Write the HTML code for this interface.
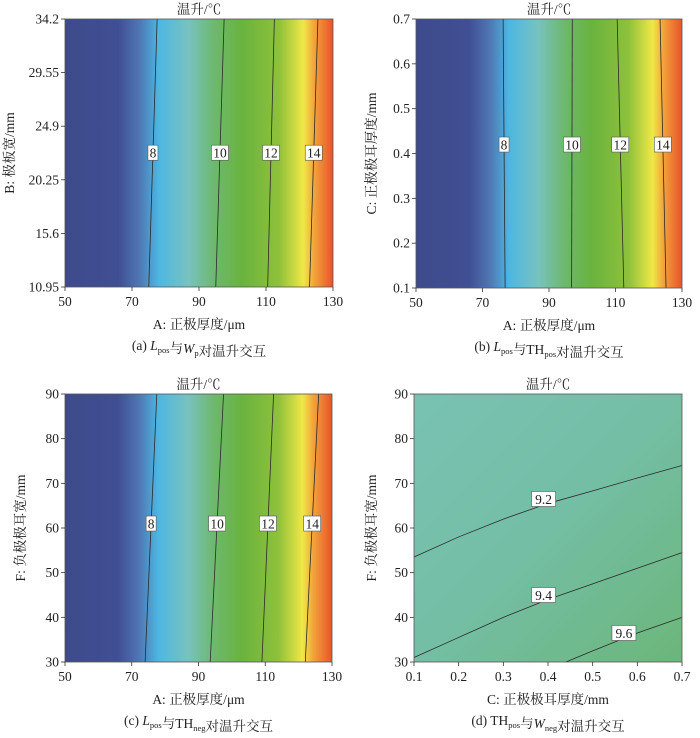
<!DOCTYPE html>
<html><head><meta charset="utf-8"><style>
html,body{margin:0;padding:0;background:#fff;}
svg text{font-family:"Liberation Serif","Noto Serif CJK SC",serif;fill:#222;}
</style></head><body>
<svg id="c" width="700" height="733" viewBox="0 0 700 733" xmlns="http://www.w3.org/2000/svg">
<defs>
<linearGradient id="heat" x1="0" x2="1" y1="0" y2="0">
<stop offset="0" stop-color="#3e4a8b"/><stop offset="0.2" stop-color="#404f93"/>
<stop offset="0.28" stop-color="#4f78b4"/><stop offset="0.35" stop-color="#4db7e2"/>
<stop offset="0.46" stop-color="#78c2c0"/><stop offset="0.56" stop-color="#6db86c"/>
<stop offset="0.66" stop-color="#69b33f"/><stop offset="0.8" stop-color="#8fc13b"/>
<stop offset="0.89" stop-color="#f0e847"/><stop offset="0.93" stop-color="#f2a33a"/>
<stop offset="1" stop-color="#e8532a"/></linearGradient>
<linearGradient id="dgrad" x1="0" y1="0" x2="1" y2="1">
<stop offset="0" stop-color="#79c2b3"/><stop offset="0.5" stop-color="#74bea5"/><stop offset="1" stop-color="#6cb67a"/></linearGradient>
</defs>
</svg>
<script>
// Panel a
const aXTicks=[50,70,90,110,130];
const aYTicks=[10.95,15.6,20.25,24.9,29.55,34.2];
const aLevels=[8,10,12,14];
const aBottomX=[75,95,110.5,123];
const aTopX=[77.5,97.5,112.5,125.5];
const aLabelY=22.6;
// Panel b
const bXTicks=[50,70,90,110,130];
const bYTicks=[0.1,0.2,0.3,0.4,0.5,0.6,0.7];
const bLevels=[8,10,12,14];
const bBottomX=[76.8,96.8,112.5,125.2];
const bTopX=[76.2,97,110.5,123.4];
const bLabelY=0.42;
// Panel c
const cXTicks=[50,70,90,110,130];
const cYTicks=[30,40,50,60,70,80,90];
const cLevels=[8,10,12,14];
const cBottomX=[74,93.5,109,122];
const cTopX=[77.5,97.5,112.5,126];
const cLabelY=61;
// Panel d
const dXTicks=[0.1,0.2,0.3,0.4,0.5,0.6,0.7];
const dYTicks=[30,40,50,60,70,80,90];
const dLevels=[9.2,9.4,9.6];
const dCurveX=[[0.1,0.2,0.3,0.4,0.5,0.6,0.7],[0.1,0.2,0.3,0.4,0.5,0.6,0.7],[0.44,0.5,0.6,0.7]];
const dCurveY=[[53.5,58,62,65.5,68.3,71.2,74],[31,35.5,40,44,47.5,51,54.5],[30,32.5,36.5,40]];
const dLabelX=[0.39,0.39,0.57];
const dLabelY=[66.5,45,36.5];

const NS="http://www.w3.org/2000/svg";
const svg=document.getElementById('c');
const FS=13.5;
function el(t,a,p){const e=document.createElementNS(NS,t);for(const k in a)e.setAttribute(k,a[k]);(p||svg).appendChild(e);return e;}
function txt(s,a,p){const e=el('text',a,p);e.textContent=s;return e;}

function panel(cfg){
  const g=el('g',{});
  
  
  const {x0,x1,y0,y1,xmin,xmax,ymin,ymax}=cfg;
  const sx=v=>x0+(v-xmin)/(xmax-xmin)*(x1-x0);
  const sy=v=>y1-(v-ymin)/(ymax-ymin)*(y1-y0);
  const bg=el('rect',{x:x0,y:y0,width:x1-x0,height:y1-y0,fill:cfg.fill},g);
  
  
  cfg.lines.forEach((ln,i)=>{
    const p=el('polyline',{points:ln.xs.map((x,j)=>sx(x)+','+sy(ln.ys[j])).join(' '),fill:'none',stroke:'#2a2a2a','stroke-width':0.8},g);
    
    
    const lx=sx(ln.lx),ly=sy(ln.ly);
    const s=String(ln.level);const w=s.length*7+3;
    const r=el('rect',{x:lx-w/2,y:ly-7.5,width:w,height:15,fill:'#fff',stroke:'#555','stroke-width':0.6},g);
    
    
    const t=txt(s,{x:lx,y:ly+5,'text-anchor':'middle','font-size':FS},g);
    
    
  });
  const fr=el('rect',{x:x0,y:y0,width:x1-x0,height:y1-y0,fill:'none',stroke:'#555','stroke-width':0.8},g);
  
  
  cfg.xt.forEach(v=>{
    el('line',{x1:sx(v),x2:sx(v),y1:y1,y2:y1+4,stroke:'#333','stroke-width':0.8},g);
    const t=txt(String(v),{x:sx(v),y:y1+19,'text-anchor':'middle','font-size':FS},g);
    
    
  });
  cfg.yt.forEach(v=>{
    el('line',{x1:x0-4,x2:x0,y1:sy(v),y2:sy(v),stroke:'#333','stroke-width':0.8},g);
    const t=txt(String(v),{x:x0-6,y:sy(v)+4.5,'text-anchor':'end','font-size':FS},g);
    
    
  });
  const cx=(x0+x1)/2;
  const tt=txt('温升/℃',{x:cx,y:y0-5,'text-anchor':'middle','font-size':FS},g);
  
  
  const xa=txt(cfg.xl,{x:cx,y:y1+42,'text-anchor':'middle','font-size':FS},g);
  
  
  const ya=txt(cfg.yl,{x:0,y:0,'text-anchor':'middle','font-size':FS,transform:`translate(${cfg.ylx},${(y0+y1)/2}) rotate(-90)`},g);
  
  
  const cap=el('text',{x:cx,y:y1+63,'text-anchor':'middle','font-size':FS},g);
  cap.innerHTML=cfg.cap;
  
  
}
function straight(levels,bx,tx,ymin,ymax,ly){
  return levels.map((l,i)=>({level:l,xs:[bx[i],tx[i]],ys:[ymin,ymax],lx:bx[i]+(tx[i]-bx[i])*(ly-ymin)/(ymax-ymin),ly:ly}));
}
const sub=(s)=>`<tspan font-size="8.5" dy="3">${s}</tspan><tspan dy="-3"></tspan>`;
panel({name:'panel-a',x0:65,x1:333,y0:19,y1:287,xmin:50,xmax:130,ymin:10.95,ymax:34.2,fill:'url(#heat)',xt:aXTicks,yt:aYTicks,
  lines:straight(aLevels,aBottomX,aTopX,10.95,34.2,aLabelY),xl:'A: 正极厚度/μm',yl:'B: 极板宽/mm',ylx:14,
  cap:`(a) <tspan font-style="italic">L</tspan>${sub('pos')}与<tspan font-style="italic">W</tspan>${sub('p')}对温升交互`});
panel({name:'panel-b',x0:416,x1:682,y0:19,y1:288,xmin:50,xmax:130,ymin:0.1,ymax:0.7,fill:'url(#heat)',xt:bXTicks,yt:bYTicks,
  lines:straight(bLevels,bBottomX,bTopX,0.1,0.7,bLabelY),xl:'A: 正极厚度/μm',yl:'C: 正极极耳厚度/mm',ylx:376,
  cap:`(b) <tspan font-style="italic">L</tspan>${sub('pos')}与TH${sub('pos')}对温升交互`});
panel({name:'panel-c',x0:65,x1:332,y0:394,y1:662,xmin:50,xmax:130,ymin:30,ymax:90,fill:'url(#heat)',xt:cXTicks,yt:cYTicks,
  lines:straight(cLevels,cBottomX,cTopX,30,90,cLabelY),xl:'A: 正极厚度/μm',yl:'F: 负极极耳宽/mm',ylx:25,
  cap:`(c) <tspan font-style="italic">L</tspan>${sub('pos')}与TH${sub('neg')}对温升交互`});
panel({name:'panel-d',x0:414,x1:682,y0:394,y1:662,xmin:0.1,xmax:0.7,ymin:30,ymax:90,fill:'url(#dgrad)',xt:dXTicks,yt:dYTicks,
  lines:dLevels.map((l,i)=>({level:l,xs:dCurveX[i],ys:dCurveY[i],lx:dLabelX[i],ly:dLabelY[i]})),xl:'C: 正极极耳厚度/mm',yl:'F: 负极极耳宽/mm',ylx:376,
  cap:`(d) TH${sub('pos')}与<tspan font-style="italic">W</tspan>${sub('neg')}对温升交互`});
</script>
</body></html>
